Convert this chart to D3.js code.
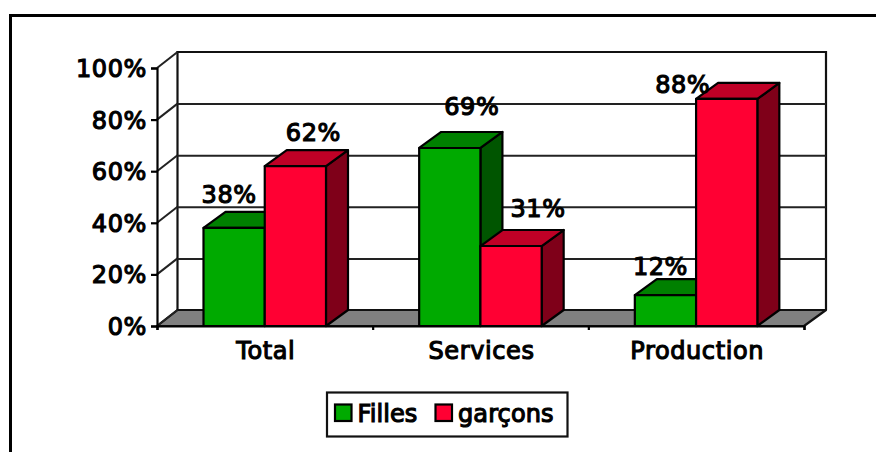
<!DOCTYPE html>
<html><head><meta charset="utf-8">
<script src="https://cdn.jsdelivr.net/npm/d3@7/dist/d3.min.js"></script>
<style>html,body{margin:0;padding:0;background:#fff}svg{display:block}
text{font-family:"DejaVu Sans",sans-serif;font-size:24px;letter-spacing:.6px;fill:#000;stroke:#000;stroke-width:1.15px}
text.leg{letter-spacing:.1px}</style>
</head><body><script>
const categories = ["Total","Services","Production"];
const seriesNames = ["Filles","garçons"];
const filles = [38,69,12];
const garcons = [62,31,88];
const yTicks = [0,20,40,60,80,100];

const W=876,H=452;
const svg=d3.select("body").append("svg").attr("width",W).attr("height",H);
const x0=157,x1=804,y0=326,y1=68,dx=20.5,dy=16,bdx=22,bdy=16;
const y=d3.scaleLinear().domain([0,100]).range([y0,y1]);
const xBand=d3.scaleBand().domain(categories).range([x0,x1]);
const xEdge=d3.scaleLinear().domain([0,categories.length]).range([x0,x1]);
const xInner=d3.scaleBand().domain(seriesNames).range([46.5,169]);
const colors={Filles:["#00AA00","#008000","#005500"],"garçons":["#FF0033","#BF0026","#7F0019"]};
const LW=2.2;

// outer frame
svg.append("path").attr("d",`M10.5,${H}V15.5H${W}`).attr("fill","none").attr("stroke","#000").attr("stroke-width",3);

// walls and floor
const bx0=x0+dx,bx1=x1+bdx;
svg.append("path").attr("d",`M${bx0},${y(0)-dy}V${y(100)-dy}H${bx1}V${y(0)-dy}`).attr("fill","#fff").attr("stroke","#111").attr("stroke-width",LW);
svg.append("polygon").attr("points",[[x0,y0],[bx0,y0-dy],[bx1,y0-dy],[x1,y0]].join(" "))
  .attr("fill","#808080").attr("stroke","#111").attr("stroke-width",LW).attr("stroke-linejoin","round");

// gridlines and their diagonals
const grid=svg.append("g").attr("stroke","#222").attr("stroke-width",2);
grid.selectAll("line.h").data(yTicks.filter(t=>t>0&&t<100)).join("line").attr("class","h")
  .attr("x1",bx0).attr("x2",bx1).attr("y1",d=>y(d)-dy+.5).attr("y2",d=>y(d)-dy+.5);
grid.selectAll("line.d").data(yTicks).join("line").attr("class","d")
  .attr("x1",x0).attr("x2",bx0).attr("y1",d=>y(d)).attr("y2",d=>y(d)-dy);

// axes
const yAxis=svg.append("g").attr("transform",`translate(${x0},0)`)
  .call(d3.axisLeft(y).tickValues(yTicks).tickSize(6).tickPadding(4).tickFormat(d=>d+"%"));
const xAxis=svg.append("g").attr("transform",`translate(0,${y0})`)
  .call(d3.axisBottom(xEdge).ticks(categories.length).tickSize(4).tickFormat(""));
[yAxis,xAxis].forEach(a=>{a.attr("font-size",null).attr("font-family",null);
  a.selectAll("path").attr("stroke","#000").attr("stroke-width",LW);
  a.selectAll("line").attr("stroke","#000").attr("stroke-width",LW);
  a.selectAll("text").attr("fill","#000").attr("dy",null).attr("dominant-baseline",null).attr("transform","translate(0,8.5)");});

// bars
const rows=categories.flatMap((c,i)=>[
  {c,s:"Filles",v:filles[i]},{c,s:"garçons",v:garcons[i]}]);
const bars=svg.append("g").attr("stroke","#000").attr("stroke-width",LW).attr("stroke-linejoin","round");
rows.forEach(r=>{
  const l=xBand(r.c)+xInner(r.s),w=xInner.bandwidth(),rr=l+w,t=y(r.v),b=y(0),col=colors[r.s];
  r.l=l;r.w=w;r.t=t;
  bars.append("polygon").attr("points",[[rr,t],[rr+bdx,t-bdy],[rr+bdx,b-bdy],[rr,b]].join(" ")).attr("fill",col[2]);
  bars.append("polygon").attr("points",[[l,t],[l+bdx,t-bdy],[rr+bdx,t-bdy],[rr,t]].join(" ")).attr("fill",col[1]);
  bars.append("rect").attr("x",l).attr("y",t).attr("width",w).attr("height",b-t).attr("fill",col[0]);
});

// hand-placed value labels, as in the source chart: [dx from bar centre, dy from bar top]
const nudges=[[-5,-25],[18,-25],[22,-33],[27,-29],[-5,-20],[-44,-6]];
svg.append("g").selectAll("text").data(rows).join("text")
  .attr("text-anchor","middle")
  .attr("x",(d,i)=>d.l+d.w/2+nudges[i][0]).attr("y",(d,i)=>d.t+nudges[i][1])
  .text(d=>d.v+"%");

// category labels
svg.append("g").selectAll("text").data(categories).join("text")
  .attr("text-anchor","middle").attr("x",d=>xBand(d)+xBand.bandwidth()/2+1).attr("y",358.5).text(d=>d);

// legend
svg.append("rect").attr("x",327).attr("y",392.5).attr("width",240.5).attr("height",44)
  .attr("fill","#fff").attr("stroke","#111").attr("stroke-width",LW);
const legX=d3.scaleOrdinal().domain(seriesNames).range([335,435.5]);
const lg=svg.append("g").selectAll("g").data(seriesNames).join("g").attr("transform",d=>`translate(${legX(d)},0)`);
lg.append("rect").attr("y",404.5).attr("width",16.5).attr("height",16.5)
  .attr("fill",d=>colors[d][0]).attr("stroke","#000").attr("stroke-width",LW);
lg.append("text").attr("class","leg").attr("x",22.5).attr("y",422).text(d=>d);
</script></body></html>
